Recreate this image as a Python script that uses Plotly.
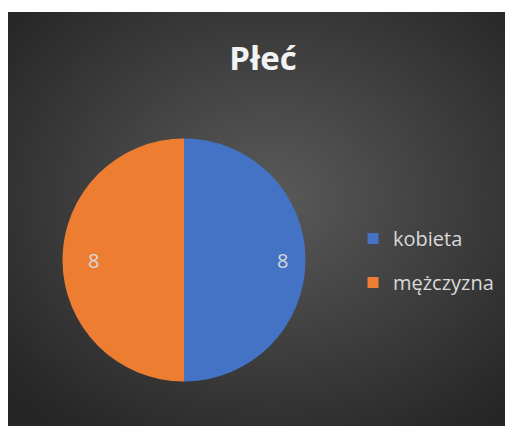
import base64
import math
import plotly.graph_objects as go

title = "Płeć"
labels = ["kobieta", "mężczyzna"]
values = [8, 8]
colors = ["#4472C4", "#ED7D31"]

# figure sits inside the page's 8px body margin
W, H = 505, 418
OX, OY = 8, 8  # page offset of the figure


def px(x):
    return (x - OX) / W


def py(y):
    return 1 - (y - OY) / H


svg = '''<svg xmlns="http://www.w3.org/2000/svg" width="502" height="414" viewBox="0 0 502 414" preserveAspectRatio="none">
<defs><radialGradient id="g" cx="52%" cy="45%" r="68%">
<stop offset="0%" stop-color="#5A5A5A"/>
<stop offset="100%" stop-color="#262626"/>
</radialGradient></defs>
<rect x="0" y="0" width="502" height="414" fill="url(#g)"/>
</svg>'''
bg_uri = "data:image/svg+xml;base64," + base64.b64encode(svg.encode()).decode()

# pie geometry (page pixels)
pcx, pcy, pr = 184, 260, 121.5

fig = go.Figure()
fig.add_trace(go.Pie(
    labels=labels, values=values, sort=False, direction="clockwise", rotation=0,
    marker=dict(colors=colors, line=dict(width=0)),
    textinfo="none", showlegend=False, hoverinfo="label+value",
    domain=dict(x=[px(pcx - pr), px(pcx + pr)], y=[py(pcy + pr), py(pcy - pr)]),
))
for i, (lab, col) in enumerate(zip(labels, colors)):
    fig.add_trace(go.Scatter(
        x=[None], y=[None], mode="markers", name=lab, legendgroup=f"g{i}",
        marker=dict(symbol="square", size=11, color=col),
        showlegend=True, hoverinfo="skip",
    ))

# data labels near the outer end of each slice
annotations = []
total = sum(values)
cum = 0
for v in values:
    theta = 2 * math.pi * (cum + v / 2) / total
    cum += v
    lx = pcx + 0.81 * pr * math.sin(theta)
    ly = pcy - 0.81 * pr * math.cos(theta)
    annotations.append(dict(x=px(lx), y=py(ly), xref="paper", yref="paper",
                            text=str(v), showarrow=False,
                            font=dict(family="Open Sans", size=20, color="#D9D9D9")))

fig.update_layout(
    width=W, height=H, margin=dict(l=0, r=0, t=0, b=0),
    paper_bgcolor="white", plot_bgcolor="rgba(0,0,0,0)",
    xaxis=dict(visible=False), yaxis=dict(visible=False),
    title=dict(text=f"<b>{title}</b>", x=px(263), xanchor="center", y=py(58), yanchor="middle",
               font=dict(family="Open Sans", size=33, color="#F2F2F2")),
    legend=dict(x=px(353), xanchor="left", y=py(219), yanchor="top",
                traceorder="grouped", tracegroupgap=15,
                font=dict(family="Open Sans", size=20, color="#D9D9D9"),
                bgcolor="rgba(0,0,0,0)"),
    annotations=annotations,
    images=[dict(source=bg_uri, xref="paper", yref="paper", x=px(8), y=py(12),
                 sizex=502 / W, sizey=414 / H, xanchor="left", yanchor="top",
                 sizing="stretch", layer="below")],
)

fig.write_html("out.html")
